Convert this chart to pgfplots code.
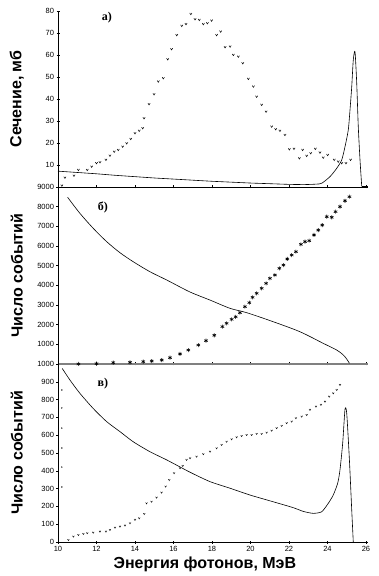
\documentclass[border=0pt]{standalone}
\usepackage{fontspec}
\setmainfont{Liberation Sans}
\newfontfamily\serifb{Liberation Serif}
\usepackage{pgfplots}
\pgfplotsset{compat=1.18}
\pgfdeclareplotmark{vee}{%
  \pgfpathmoveto{\pgfqpoint{-\pgfplotmarksize}{\pgfplotmarksize}}%
  \pgfpathlineto{\pgfqpoint{0pt}{-0.6\pgfplotmarksize}}%
  \pgfpathlineto{\pgfqpoint{\pgfplotmarksize}{\pgfplotmarksize}}%
  \pgfusepathqstroke}
\pgfplotsset{
  panel/.style={
    scale only axis, width=309.9pt, xmin=10, xmax=26.1,
    axis lines=left, axis line style={-, black, line width=0.6pt},
    xtick={10,12,...,26}, tick align=center, major tick length=3pt,
    tick style={black, line width=0.5pt},
    /pgf/number format/assume math mode=true,
    /pgf/number format/set thousands separator={},
    scaled y ticks=false,
    tick label style={font=\fontsize{7.5}{8}\selectfont},
    yticklabel style={xshift=1pt},
    ylabel style={at={(axis description cs:-0.133,0.5)}, anchor=center, rotate=0,
      font=\fontsize{16}{18}\selectfont\bfseries},
    clip=false,
  },
}
\begin{document}
\begin{tikzpicture}
\path[use as bounding box] (0,0) rectangle (378pt,576pt);
% ---------- panel a ----------
\begin{axis}[panel, at={(58pt,389pt)}, anchor=south west, height=176pt,
  ymin=0, ymax=80, ytick={10,20,...,80}, xticklabels={},
  ylabel={Сечение, мб}]
\addplot[black, line width=0.6pt, smooth, tension=0.4] coordinates {
(10,7.2) (11,6.6) (12,6.0) (13,5.3) (14,4.7) (15,4.1) (16,3.6) (17,3.1) (18,2.6)
(19,2.2) (20,1.8) (21,1.5) (22,1.2) (22.8,1.1) (23.4,1.3) (23.7,1.7) (24.13,4.7)
(24.48,8.5) (24.74,12.3) (24.91,18.3) (25.08,25.9) (25.17,35) (25.26,45.6)
(25.34,57.7) (25.43,61.5) (25.52,47) (25.6,27.4) (25.69,12.3) (25.78,0.3)};
\addplot[black, line width=0.6pt] coordinates {(25.78,0.3) (26.1,0.3)};
\addplot[only marks, mark=vee, mark size=1.1pt, mark options={black, line width=0.5pt}] coordinates {
(10.2,0.6) (10.36,4.2) (10.83,5.1) (11.06,7.7) (11.52,7.7) (11.75,9.2) (12.0,10.8)
(12.18,11.2) (12.49,12.3) (12.7,14.2) (12.92,16) (13.13,16.8) (13.36,18.3) (13.57,19.8)
(13.78,21.8) (14.0,24.4) (14.22,25.5) (14.4,26.7) (14.47,31.2) (14.73,37.6) (14.99,42.1)
(15.21,47.9) (15.47,49.4) (15.7,58) (15.9,62.6) (16.17,69) (16.43,73.2) (16.65,74)
(16.9,78.6) (17.12,76.2) (17.34,75.9) (17.55,74) (17.76,74.4) (17.98,75.6) (18.24,69)
(18.45,70.6) (18.68,63.5) (18.94,63.8) (19.11,60) (19.37,59.2) (19.6,56.2) (19.89,49.1)
(20.15,45.6) (20.32,41) (20.58,37.3) (20.81,34.2) (21.1,27.4) (21.31,26.2) (21.53,25.5)
(21.79,23.6) (22.02,17.1) (22.26,17.3) (22.54,13) (22.71,16.8) (22.92,14.1) (23.13,15.3)
(23.37,17.3) (23.61,15.6) (23.78,13.3) (24.01,14.5) (24.35,12.3) (24.56,11.5)
(24.74,10.8) (24.96,10.8) (25.2,12.3)};
\node[font=\serifb\bfseries\fontsize{12}{13}\selectfont] at (axis description cs:0.158,0.96) {а)};
\end{axis}
% ---------- panel b ----------
\begin{axis}[panel, at={(58pt,212pt)}, anchor=south west, height=177pt,
  ymin=0, ymax=9000, ytick={1000,2000,...,9000}, xticklabels={},
  x axis line style={draw=gray, line width=1.4pt},
  ylabel={Число событий}]
\addplot[black, line width=0.6pt, smooth, tension=0.5] coordinates {
(10.5,8475) (11.14,7660) (11.83,6900) (12.53,6220) (13.22,5660) (13.91,5200)
(14.78,4690) (15.65,4270) (16.86,3660) (17.9,3250) (18.94,2830) (19.8,2610)
(21.18,2150) (22.57,1640) (23.78,1050) (24.48,710) (24.82,460) (25.0,250) (25.14,35)};
\addplot[only marks, mark=asterisk, mark size=2pt, mark options={black, line width=0.6pt}] coordinates {
(11.06,0) (12.0,15) (12.87,70) (13.74,85) (14.43,120) (14.87,150) (15.39,200)
(15.82,320) (16.34,510) (16.77,710) (17.29,965) (17.69,1185) (18.12,1460) (18.54,1900)
(18.76,2070) (19.02,2270) (19.23,2400) (19.45,2610) (19.71,2915) (19.94,3120)
(20.11,3390) (20.32,3595) (20.58,3850) (20.81,4100) (21.01,4355) (21.27,4525)
(21.5,4865) (21.71,5030) (21.91,5340) (22.14,5540) (22.36,5710) (22.62,6085)
(22.83,6220) (23.05,6270) (23.3,6560) (23.52,6810) (23.73,7065) (23.96,7490)
(24.22,7460) (24.42,7745) (24.65,8000) (24.91,8300) (25.14,8505)};
\node[font=\serifb\bfseries\fontsize{12}{13}\selectfont] at (axis description cs:0.145,0.887) {б)};
\end{axis}
% ---------- panel c ----------
\begin{axis}[panel, at={(58pt,34pt)}, anchor=south west, height=178pt,
  ymin=0, ymax=1000, ytick={0,100,...,1000},
  xticklabel style={yshift=1pt},
  ylabel={Число событий},
  xlabel={Энергия фотонов, МэВ},
  xlabel style={at={(axis description cs:0.474,-0.124)}, anchor=center,
    font=\fontsize{16}{18}\selectfont\bfseries}]
\addplot[black, line width=0.6pt, smooth, tension=0.4] coordinates {
(10.22,975) (10.62,910) (11.14,835) (11.83,750) (12.53,676) (13.22,620) (13.91,563)
(14.78,507) (15.65,461) (16.86,392) (17.9,339) (18.94,302) (19.97,264) (21.18,226)
(22.22,193) (22.74,172) (23.26,161) (23.7,170) (24.04,217) (24.3,264) (24.53,330)
(24.65,405) (24.79,555) (24.91,745) (25.0,723) (25.14,460) (25.26,180) (25.34,0)};
\addplot[only marks, mark=vee, mark size=0.9pt, mark options={black, line width=0.45pt}] coordinates {
(10.54,11) (10.8,30) (11.06,39) (11.32,45) (11.52,49) (11.83,52) (12.18,58) (12.49,58)
(12.7,67) (12.96,80) (13.22,86) (13.48,92) (13.74,105) (14.0,124) (14.22,133) (14.48,157)
(14.6,217) (14.86,226) (15.12,249) (15.38,277) (15.59,311) (15.78,348) (16.03,386)
(16.34,414) (16.48,427) (16.68,461) (16.86,470) (17.2,479) (17.55,493) (17.9,507)
(18.24,526) (18.5,545) (18.76,563) (19.02,577) (19.28,588) (19.54,595) (19.8,601)
(20.06,601) (20.32,607) (20.58,607) (20.84,614) (21.1,625) (21.36,639) (21.62,652)
(21.88,667) (22.14,676) (22.36,695) (22.66,704) (22.92,713) (23.09,742) (23.4,760)
(23.66,770) (23.87,788) (24.09,816) (24.3,835) (24.48,854) (24.65,882)};
\addplot[only marks, mark=*, mark size=0.4pt, black] coordinates {
(10.2,854) (10.2,753) (10.2,640) (10.2,528) (10.2,421) (10.2,309)};
\node[font=\serifb\bfseries\fontsize{12}{13}\selectfont] at (axis description cs:0.145,0.888) {в)};
\end{axis}
\end{tikzpicture}
\end{document}
